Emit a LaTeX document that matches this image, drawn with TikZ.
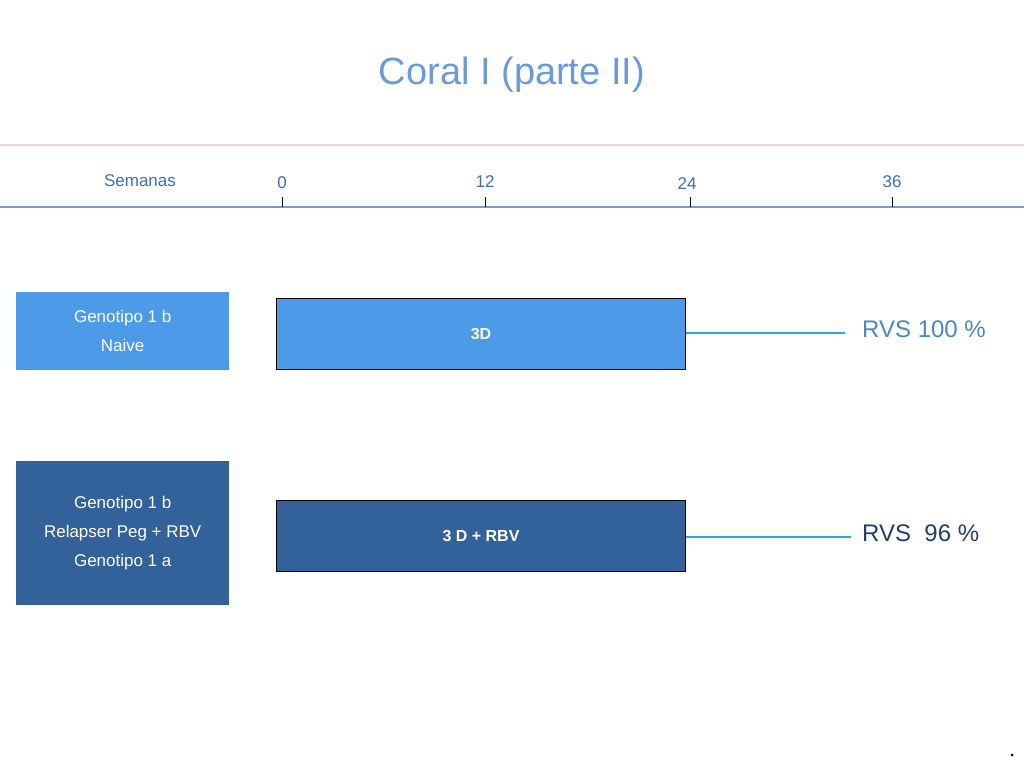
\documentclass[tikz,border=0pt]{standalone}
\usepackage{fontspec}
\setmainfont{Liberation Sans}
\definecolor{titleblue}{HTML}{6A9BD8}
\definecolor{lightbox}{HTML}{4D9AE8}
\definecolor{darkbox}{HTML}{336199}
\definecolor{axisblue}{HTML}{3A6FB5}
\definecolor{cyanline}{HTML}{29A9E0}
\definecolor{rvs1}{HTML}{4A86C8}
\definecolor{rvs2}{HTML}{1F3F6B}
\definecolor{pinkline}{HTML}{F4D4D4}
\tikzset{
  lbox/.style={anchor=north west,inner sep=0pt,text=white,align=center,font=\fontsize{17}{29}\selectfont},
  bar/.style={anchor=north west,inner sep=0pt,draw=black,line width=1pt,text=white,font=\fontsize{16}{19}\selectfont\bfseries},
  tick/.style={font=\fontsize{17}{20}\selectfont,text=axisblue},
  res/.style={line width=1.6pt,draw=cyanline}
}
\begin{document}
\begin{tikzpicture}[x=1pt,y=-1pt]
\useasboundingbox (0,0) rectangle (1024,768);
\node (title) at (512,75) {\fontsize{38}{44}\selectfont\color{titleblue}Coral I (parte II)};
\draw[pinkline,line width=1.2pt] (0,145) -- (1024,145);
\draw[axisblue!70,line width=1.2pt] (0,207) -- (1024,207);
\foreach \x in {282,485,690,892} \draw[black,line width=0.8pt] (\x,197) -- (\x,207);
\node[tick] (sem) at (140,181) {Semanas};
\node[tick] (t0) at (282,183) {0};
\node[tick] (t12) at (485,182) {12};
\node[tick] (t24) at (687,184) {24};
\node[tick] (t36) at (892,182) {36};
\node[lbox,fill=lightbox,minimum width=213pt,minimum height=78pt] (g1) at (16,292) {Genotipo 1 b\\Naive};
\node[lbox,fill=darkbox,minimum width=213pt,minimum height=144pt] (g2) at (16,461) {Genotipo 1 b\\Relapser Peg + RBV\\Genotipo 1 a};
\node[bar,fill=lightbox,minimum width=409pt,minimum height=71pt] (b1) at (276,298) {3D};
\node[bar,fill=darkbox,minimum width=409pt,minimum height=71pt] (b2) at (276,500) {3 D + RBV};
\node[anchor=west,inner sep=0pt,font=\fontsize{24}{28}\selectfont,text=rvs1] (r1) at (862,329) {RVS 100 \%};
\node[anchor=west,inner sep=0pt,font=\fontsize{24}{28}\selectfont,text=rvs2] (r2) at (862,533) {RVS \ 96 \%};
\coordinate (e1) at (845,333);
\coordinate (e2) at (851,537);
\draw[res] (b1.east |- e1) -- (e1);
\draw[res] (b2.east |- e2) -- (e2);
\fill[black] (1012,755) circle (1.5pt);
\end{tikzpicture}
\end{document}
